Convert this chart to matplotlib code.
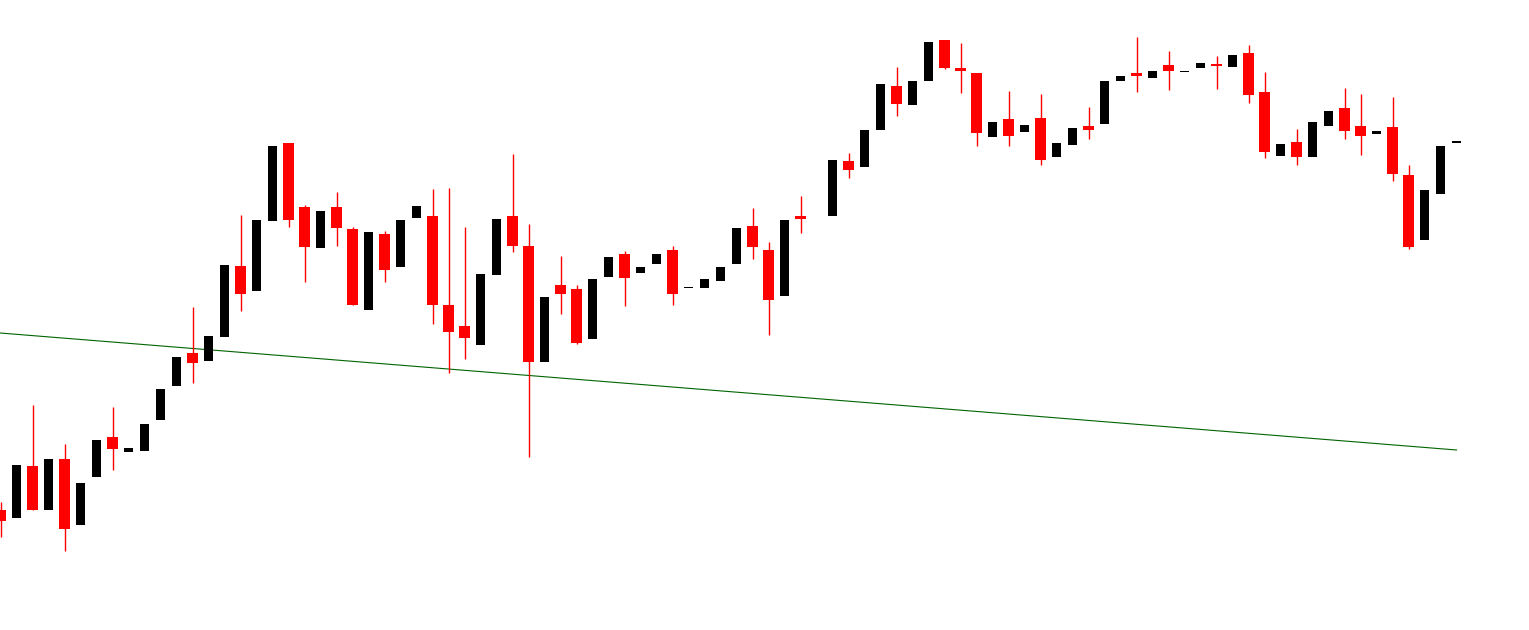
import matplotlib
matplotlib.use("Agg")
import matplotlib.pyplot as plt
import numpy as np

# OHLC per bar (price units); bar 51 has no data
opens = [120, 112, 164, 120, 171, 105, 153, 193, 178, 179,
         210, 244, 277, 269, 293, 364, 339, 409, 487, 423,
         382, 423, 401, 320, 396, 363, 412, 414, 325, 304,
         285, 355, 414, 384, 268, 345, 341, 291, 353, 376,
         357, 366, 380, 342, 342, 349, 366, 404, 380, 334,
         414, np.nan, 414, 469, 463, 500, 544, 525, 549, 590,
         562, 557, 493, 511, 498, 512, 473, 485, 504, 506,
         549, 557, 552, 565, 558, 562, 566, 563, 577, 538,
         474, 488, 473, 504, 522, 504, 496, 503, 455, 390,
         436, 487]
highs = [128, 165, 225, 171, 186, 147, 190, 223, 182, 206,
         241, 273, 323, 294, 365, 415, 410, 484, 487, 425,
         419, 438, 403, 398, 399, 410, 424, 441, 442, 403,
         356, 411, 476, 406, 333, 374, 345, 351, 373, 379,
         363, 376, 384, 343, 351, 363, 402, 422, 388, 410,
         434, np.nan, 470, 477, 500, 546, 563, 549, 588, 590,
         587, 557, 508, 539, 505, 536, 487, 502, 523, 549,
         554, 593, 559, 579, 559, 567, 574, 575, 585, 558,
         486, 501, 508, 519, 542, 536, 499, 533, 465, 440,
         484, 489]
lows = [93, 112, 120, 120, 79, 105, 153, 160, 178, 179,
        210, 244, 247, 269, 293, 319, 339, 409, 403, 348,
        382, 384, 325, 320, 348, 363, 412, 306, 257, 271,
        285, 355, 378, 173, 268, 316, 286, 291, 353, 324,
        357, 366, 325, 342, 342, 349, 366, 371, 295, 334,
        397, np.nan, 414, 452, 463, 500, 514, 525, 549, 561,
        537, 484, 493, 484, 498, 465, 473, 485, 491, 506,
        549, 538, 552, 540, 558, 562, 541, 563, 527, 472,
        474, 465, 473, 504, 491, 475, 496, 449, 381, 390,
        436, 487]
closes = [109, 165, 120, 171, 101, 147, 190, 181, 182, 206,
          241, 273, 267, 294, 365, 336, 410, 484, 410, 383,
          419, 402, 325, 398, 360, 410, 424, 325, 298, 292,
          356, 411, 384, 268, 333, 336, 287, 351, 373, 352,
          363, 376, 336, 343, 351, 363, 402, 383, 330, 410,
          411, np.nan, 470, 460, 500, 546, 526, 549, 588, 562,
          559, 497, 508, 494, 505, 470, 487, 502, 500, 549,
          554, 554, 559, 559, 559, 567, 564, 575, 535, 478,
          486, 473, 508, 519, 499, 494, 499, 456, 383, 440,
          484, 489]

# trendline anchors (bar index, price)
trend_idx = [-0.03, 91]
trend_price = [297, 180]

o = np.array(opens, float)
h = np.array(highs, float)
l = np.array(lows, float)
c = np.array(closes, float)
idx = np.arange(len(o))
ok = ~np.isnan(o)
up = ok & (c >= o)
down = ok & (c < o)

fig = plt.figure(figsize=(15.29, 6.3), dpi=100)
ax = fig.add_axes([0, 0, 1, 1])

ax.plot(trend_idx, trend_price, color="#006400", linewidth=0.8, zorder=1)

# red (bearish) candles with wicks
ax.vlines(idx[down], l[down], h[down], color="#ff0000", linewidth=1.0, zorder=2)
ax.bar(idx[down], np.maximum(o[down] - c[down], 1), bottom=c[down],
       width=0.69, color="#ff0000", linewidth=0, zorder=3)

# black (bullish) candles
ax.bar(idx[up], np.maximum(c[up] - o[up], 1.2), bottom=o[up],
       width=0.56, color="#000000", linewidth=0, zorder=3)

ax.set_xlim(-1 / 32, 1528.5 / 16)
ax.set_ylim(0, 630)
ax.axis("off")

fig.savefig("out.png", dpi=100, facecolor="white")
